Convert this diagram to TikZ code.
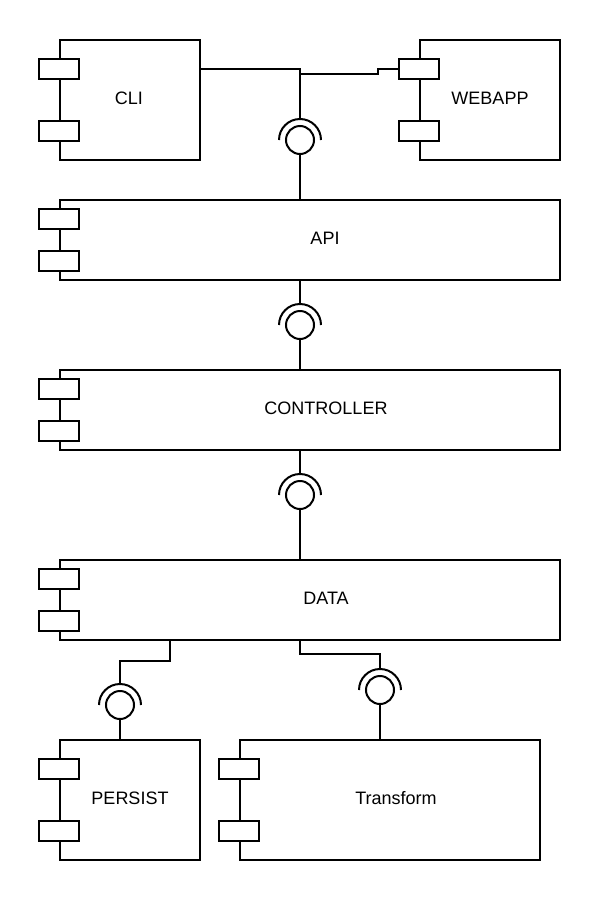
\documentclass[tikz,border=0pt]{standalone}
\usepackage{fontspec}
\setmainfont{Liberation Sans}
\usepackage{tikz}
\usetikzlibrary{positioning,calc}
\tikzset{
	comp/.style={draw,rectangle,line width=2pt,fill=white,inner sep=0pt},
	port/.style={draw,rectangle,line width=2pt,fill=white,minimum width=40pt,minimum height=20pt,inner sep=0pt},
	ball/.style={draw,circle,line width=2pt,fill=white,minimum size=28pt,inner sep=0pt},
	wire/.style={line width=2pt},
	every label/.style={font=\fontsize{18}{21}\selectfont}
}

\begin{document}
\begin{tikzpicture}[x=1pt,y=-1pt]
			\useasboundingbox (0,0) rectangle (600,900);
			\node[comp,minimum width=140pt,minimum height=120pt,label={[xshift=-1pt,yshift=2pt]center:CLI}] (cli) at (130,100) {};
			\node[comp,minimum width=140pt,minimum height=120pt,label={[yshift=2pt]center:WEBAPP}] (webapp) at (490,100) {};
			\node[comp,minimum width=500pt,minimum height=80pt,label={[xshift=15pt,yshift=2pt]center:API}] (api) at (310,240) {};
			\node[comp,minimum width=500pt,minimum height=80pt,label={[xshift=16pt,yshift=2pt]center:CONTROLLER}] (controller) at (310,410) {};
			\node[comp,minimum width=500pt,minimum height=80pt,label={[xshift=16pt,yshift=2pt]center:DATA}] (data) at (310,600) {};
			\node[comp,minimum width=140pt,minimum height=120pt,label={[yshift=2pt]center:PERSIST}] (persist) at (130,800) {};
			\node[comp,minimum width=300pt,minimum height=120pt,label={[xshift=6pt,yshift=2pt]center:Transform}] (transform) at (390,800) {};
			
			% ports on the left side of each component
			\foreach \c/\d in {cli/30,webapp/30,api/20,controller/20,data/20,persist/30,transform/30}{
				\node[port] (\c-a) at ([yshift=-\d pt]\c.north west) {};
				\node[port] (\c-b) at ([yshift=\d pt]\c.south west) {};
			}
			
			% interfaces
			\node[ball] (i1) at (300,140) {};
			\node[ball] (i2) at (300,325) {};
			\node[ball] (i3) at (300,495) {};
			\node[ball] (i4) at (120,705) {};
			\node[ball] (i5) at (380,690) {};
			\foreach \i in {1,...,5}{
				\coordinate (s\i) at ([yshift=21pt]i\i.center);
				\draw[wire] ([xshift=21pt]i\i.center) arc[start angle=0,end angle=-180,radius=21];
			}
			
			\draw[wire] (cli-a -| cli.east) -- (s1 |- cli-a) -- (s1);
			\draw[wire] (webapp-a.west) -- ++(-20,0) -- ++(0,5) -- ([yshift=-5pt]s1 |- webapp-a);
			\draw[wire] (i1.south) -- (i1 |- api.north);
			\draw[wire] (s2 |- api.south) -- (s2);
			\draw[wire] (i2.south) -- (i2 |- controller.north);
			\draw[wire] (s3 |- controller.south) -- (s3);
			\draw[wire] (i3.south) -- (i3 |- data.north);
			\draw[wire] (data.south -| 170,0) -- ++(0,20) -| (s4);
			\draw[wire] (data.south -| 300,0) -- ++(0,13) -| (s5);
			\draw[wire] (i4.south) -- (i4 |- persist.north);
			\draw[wire] (i5.south) -- (i5 |- transform.north);
		\end{tikzpicture}
\end{document}
